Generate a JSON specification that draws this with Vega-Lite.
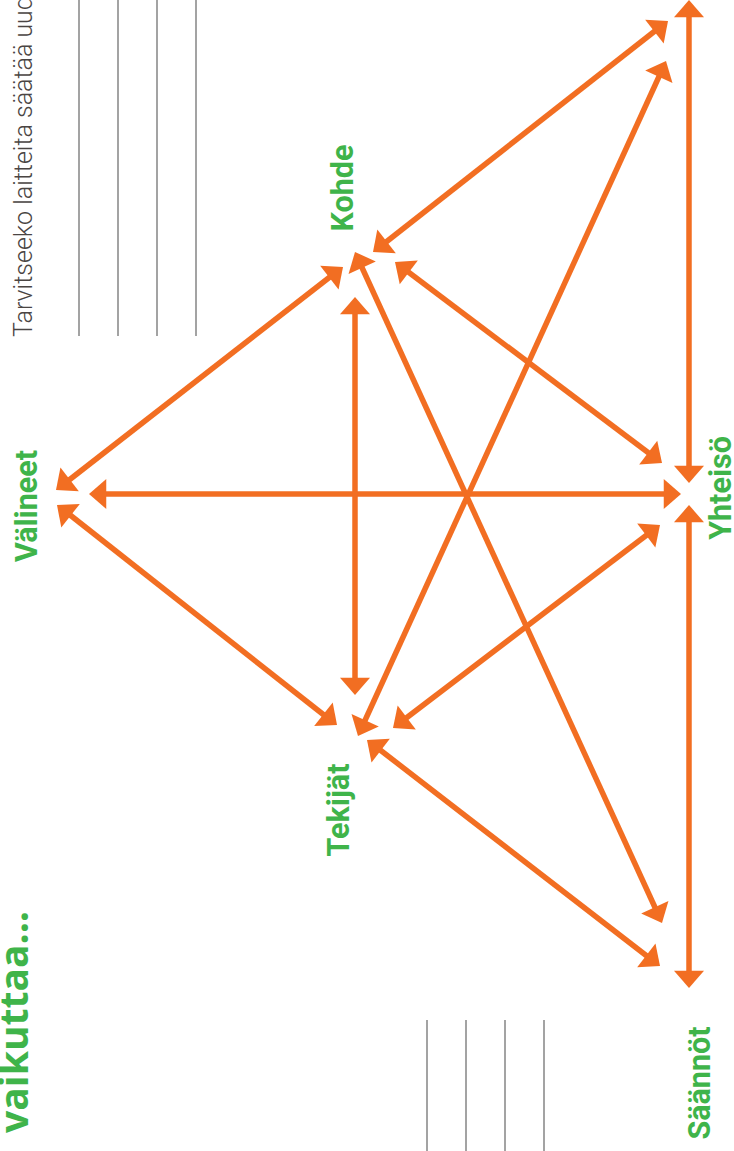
{
  "$schema": "https://vega.github.io/schema/vega-lite/v6.json",
  "width": 734,
  "height": 1151,
  "autosize": {"type": "none"},
  "padding": 0,
  "background": "white",
  "config": {"view": {"stroke": null}},
  "datasets": {
    "grid": [
      {"x": 79, "y1": 0, "y2": 336},
      {"x": 118, "y1": 0, "y2": 336},
      {"x": 157, "y1": 0, "y2": 336},
      {"x": 196, "y1": 0, "y2": 336},
      {"x": 427, "y1": 1020, "y2": 1151},
      {"x": 466, "y1": 1020, "y2": 1151},
      {"x": 505, "y1": 1020, "y2": 1151},
      {"x": 544, "y1": 1020, "y2": 1151}
    ],
    "links": [
      {"link": "Välineet-Kohde", "x1": 64, "y1": 484, "x2": 335, "y2": 273},
      {"link": "Välineet-Tekijät", "x1": 65, "y1": 511, "x2": 329, "y2": 719},
      {"link": "Välineet-Yhteisö", "x1": 99, "y1": 494, "x2": 671, "y2": 494},
      {"link": "Kohde-Tekijät", "x1": 355, "y1": 307, "x2": 355, "y2": 685},
      {"link": "Kohde-Yhteisö", "x1": 403, "y1": 268, "x2": 654, "y2": 457},
      {"link": "Tekijät-Yhteisö", "x1": 401, "y1": 722, "x2": 652, "y2": 531},
      {"link": "Yhteisö-ylös", "x1": 689, "y1": 473, "x2": 689, "y2": 10},
      {"link": "Yhteisö-Säännöt", "x1": 689, "y1": 515, "x2": 689, "y2": 978},
      {"link": "Kohde-Säännöt", "x1": 359, "y1": 261, "x2": 658, "y2": 914},
      {"link": "Tekijät-ylös", "x1": 362, "y1": 727, "x2": 662, "y2": 70},
      {"link": "Kohde-ylös", "x1": 381, "y1": 246, "x2": 660, "y2": 27},
      {"link": "Tekijät-Säännöt", "x1": 375, "y1": 746, "x2": 652, "y2": 960}
    ],
    "heads": [
      {"x": 56, "y": 490, "dir": 232.2},
      {"x": 343, "y": 267, "dir": 52.2},
      {"x": 57, "y": 505, "dir": 308.2},
      {"x": 337, "y": 725, "dir": 128.2},
      {"x": 89, "y": 494, "dir": 270},
      {"x": 681, "y": 494, "dir": 90},
      {"x": 355, "y": 297, "dir": 0},
      {"x": 355, "y": 695, "dir": 180},
      {"x": 395, "y": 262, "dir": 307},
      {"x": 662, "y": 463, "dir": 127},
      {"x": 393, "y": 728, "dir": 232.75},
      {"x": 660, "y": 525, "dir": 52.75},
      {"x": 689, "y": 483, "dir": 180},
      {"x": 689, "y": 0, "dir": 0},
      {"x": 689, "y": 505, "dir": 0},
      {"x": 689, "y": 988, "dir": 180},
      {"x": 355, "y": 252, "dir": 335.4},
      {"x": 662, "y": 923, "dir": 155.4},
      {"x": 358, "y": 736, "dir": 204.5},
      {"x": 666, "y": 61, "dir": 24.5},
      {"x": 373, "y": 252, "dir": 231.9},
      {"x": 668, "y": 21, "dir": 51.9},
      {"x": 367, "y": 740, "dir": 307.6},
      {"x": 660, "y": 966, "dir": 127.6}
    ],
    "labels": [
      {"x": 353, "y": 188, "text": "Kohde"},
      {"x": 731, "y": 488, "text": "Yhteisö"},
      {"x": 37, "y": 506, "text": "Välineet"},
      {"x": 349, "y": 810, "text": "Tekijät"},
      {"x": 710, "y": 1083, "text": "Säännöt"}
    ],
    "title": [
      {"x": 28, "y": 1022, "text": "vaikuttaa..."}
    ],
    "question": [
      {"x": 32, "y": 337, "text": "Tarvitseeko laitteita säätää uudelleen?"}
    ]
  },
  "layer": [
    {
      "data": {"name": "grid"},
      "mark": {"type": "rule", "color": "#8c8c8c", "strokeWidth": 1.6},
      "encoding": {
        "x": {"field": "x", "type": "quantitative", "scale": {"domain": [0, 734], "nice": false, "zero": false}, "axis": null},
        "y": {"field": "y1", "type": "quantitative", "scale": {"domain": [0, 1151], "nice": false, "zero": false, "reverse": true}, "axis": null},
        "y2": {"field": "y2"}
      }
    },
    {
      "data": {"name": "links"},
      "mark": {"type": "rule", "color": "#f26e22", "strokeWidth": 5.5, "strokeCap": "butt"},
      "encoding": {
        "x": {"field": "x1", "type": "quantitative"},
        "y": {"field": "y1", "type": "quantitative"},
        "x2": {"field": "x2"},
        "y2": {"field": "y2"}
      }
    },
    {
      "data": {"name": "heads"},
      "mark": {"type": "point", "shape": "M0,0L1,1.15L-1,1.15Z", "filled": true, "size": 900, "color": "#f26e22", "opacity": 1, "strokeWidth": 0},
      "encoding": {
        "x": {"field": "x", "type": "quantitative"},
        "y": {"field": "y", "type": "quantitative"},
        "angle": {"field": "dir", "type": "quantitative", "scale": null}
      }
    },
    {
      "data": {"name": "labels"},
      "mark": {"type": "text", "angle": 270, "align": "center", "baseline": "alphabetic", "font": "Roboto", "fontWeight": "bold", "fontSize": 30.5, "color": "#3fb44a"},
      "encoding": {
        "x": {"field": "x", "type": "quantitative"},
        "y": {"field": "y", "type": "quantitative"},
        "text": {"field": "text"}
      }
    },
    {
      "data": {"name": "title"},
      "mark": {"type": "text", "angle": 270, "align": "center", "baseline": "alphabetic", "font": "Open Sans", "fontWeight": "bold", "fontSize": 39, "color": "#3fb44a"},
      "encoding": {
        "x": {"field": "x", "type": "quantitative"},
        "y": {"field": "y", "type": "quantitative"},
        "text": {"field": "text"}
      }
    },
    {
      "data": {"name": "question"},
      "mark": {"type": "text", "angle": 270, "align": "left", "baseline": "alphabetic", "font": "Roboto", "fontWeight": 300, "fontSize": 25, "color": "#4a4543"},
      "encoding": {
        "x": {"field": "x", "type": "quantitative"},
        "y": {"field": "y", "type": "quantitative"},
        "text": {"field": "text"}
      }
    }
  ]
}
